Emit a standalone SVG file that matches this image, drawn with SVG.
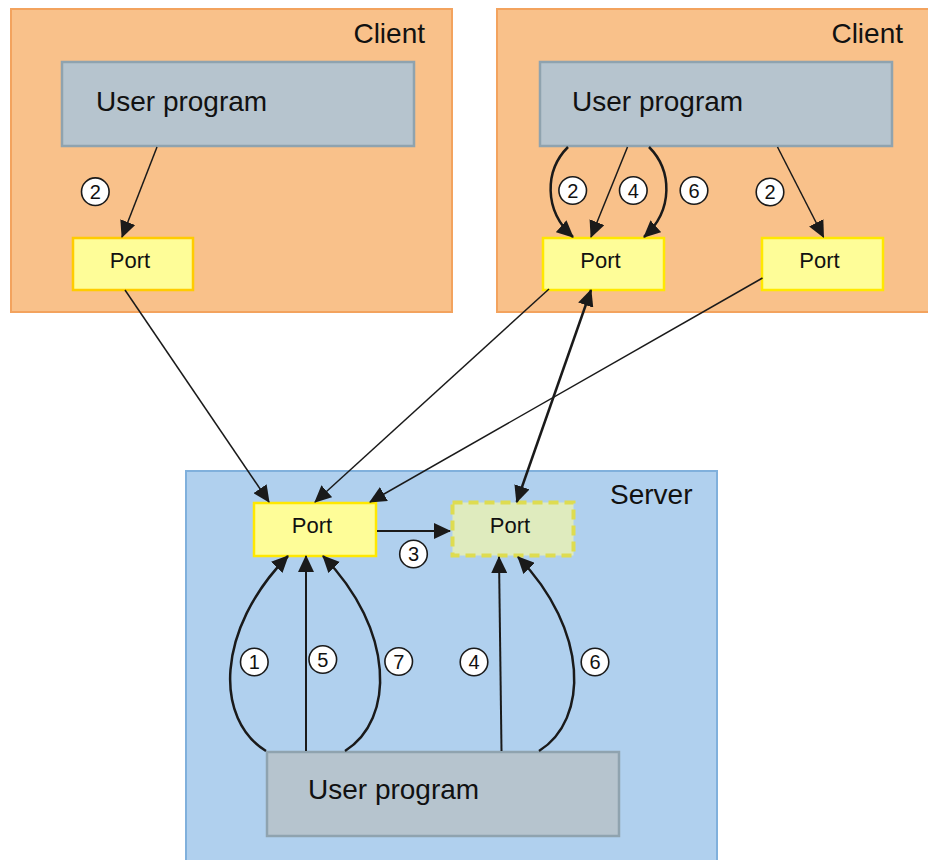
<svg xmlns="http://www.w3.org/2000/svg" width="928" height="860" viewBox="0 0 928 860">
<defs>
<style>
.client{fill:#F9C18A;stroke:#F3A35E;stroke-width:2}
.server{fill:#B0D0EE;stroke:#80B0DC;stroke-width:2}
.prog{fill:#B6C4CE;stroke:#8FA3AF;stroke-width:2.5}
.port{fill:#FEFD98;stroke:#FFE800;stroke-width:2.5}
.portc1{fill:#FEFD98;stroke:#FFCC00;stroke-width:2.5}
.portd{fill:#DFEBBE;stroke:#DEDC50;stroke-width:4;stroke-dasharray:10 6}
.title{font-family:"Liberation Sans",Arial,sans-serif;font-size:28px;fill:#111}
.ptxt{font-family:"Liberation Sans",Arial,sans-serif;font-size:22px;fill:#111;text-anchor:middle}
.utxt{font-family:"Liberation Sans",Arial,sans-serif;font-size:28px;fill:#111}
.lbl circle{fill:#fff;stroke:#1a1a1a;stroke-width:1.6}
.lbl text{font-family:"Liberation Sans",Arial,sans-serif;font-size:20px;fill:#111;text-anchor:middle}
.thin{fill:none;stroke:#1a1a1a;stroke-width:1.5;marker-end:url(#ah)}
.bold{fill:none;stroke:#1a1a1a;stroke-width:2.5;marker-end:url(#ah)}
.mid{fill:none;stroke:#1a1a1a;stroke-width:2;marker-end:url(#ah)}
</style>
<marker id="ah" markerUnits="userSpaceOnUse" markerWidth="17" markerHeight="16" viewBox="0 0 17 16" refX="16" refY="8" orient="auto-start-reverse">
<path d="M0,0 L17,8 L0,16 z" fill="#1a1a1a"/>
</marker>
</defs>

<g id="client1">
<rect class="client" x="11" y="9" width="441" height="303"/>
<text class="title" x="425" y="43" text-anchor="end">Client</text>
</g>
<g id="client2">
<rect class="client" x="497" y="9" width="440" height="303"/>
<text class="title" x="903" y="43" text-anchor="end">Client</text>
</g>
<g id="server">
<rect class="server" x="186" y="471" width="531" height="400"/>
<text class="title" x="610" y="504">Server</text>
</g>

<g id="client1-program">
<rect class="prog" x="62" y="62" width="352" height="84"/>
<text class="utxt" x="96" y="111">User program</text>
</g>
<g id="client1-port">
<rect class="portc1" x="73" y="238" width="120" height="52"/>
<text class="ptxt" x="130" y="268">Port</text>
</g>

<g id="client2-program">
<rect class="prog" x="540" y="62" width="352" height="84"/>
<text class="utxt" x="572" y="111">User program</text>
</g>
<g id="client2-port-a">
<rect class="port" x="543" y="238" width="121" height="52"/>
<text class="ptxt" x="600.5" y="268">Port</text>
</g>
<g id="client2-port-b">
<rect class="port" x="762" y="238" width="121" height="52"/>
<text class="ptxt" x="819.5" y="268">Port</text>
</g>

<g id="server-port">
<rect class="port" x="254" y="503" width="122" height="53"/>
<text class="ptxt" x="312" y="533">Port</text>
</g>
<g id="server-port-virtual">
<rect class="portd" x="452.5" y="502.5" width="121" height="53"/>
<text class="ptxt" x="510" y="533">Port</text>
</g>
<g id="server-program">
<rect class="prog" x="267" y="752" width="352" height="84"/>
<text class="utxt" x="308" y="799">User program</text>
</g>

<g id="connectors">
<path class="thin" d="M157,147 L122,237"/>
<path class="bold" d="M568,147 C545,170 543,210 573,237"/>
<path class="thin" d="M627.5,147 L591,237"/>
<path class="bold" d="M649,147 C672,170 674,210 644,237"/>
<path class="thin" d="M777.5,147 L823.5,237"/>
<path class="thin" d="M125,290 L269,502"/>
<path class="thin" d="M549,289 L315,502"/>
<path class="thin" d="M762.5,278 L370,502"/>
<path class="bold" d="M516.7,502 L591,290" style="marker-start:url(#ah)"/>
<path class="mid" d="M377,531 L450,531"/>
<path class="bold" d="M266,751 C215,720 215,630 288,556"/>
<path class="mid" d="M306,751 L306,556"/>
<path class="bold" d="M345,751 C395,720 395,630 323,556"/>
<path class="mid" d="M501.5,751 L499,557"/>
<path class="bold" d="M539,751 C589,720 589,630 518,557"/>
</g>

<g id="labels">
<g class="lbl"><circle cx="95.3" cy="191.7" r="13.8"/><text x="95.3" y="198.7">2</text></g>
<g class="lbl"><circle cx="572.7" cy="190.5" r="13.8"/><text x="572.7" y="197.5">2</text></g>
<g class="lbl"><circle cx="633.3" cy="190.5" r="13.8"/><text x="633.3" y="197.5">4</text></g>
<g class="lbl"><circle cx="694" cy="190.5" r="13.8"/><text x="694" y="197.5">6</text></g>
<g class="lbl"><circle cx="770" cy="192" r="13.8"/><text x="770" y="199">2</text></g>
<g class="lbl"><circle cx="413.5" cy="554" r="13.8"/><text x="413.5" y="561">3</text></g>
<g class="lbl"><circle cx="254.3" cy="662" r="13.8"/><text x="254.3" y="669">1</text></g>
<g class="lbl"><circle cx="322.8" cy="659.5" r="13.8"/><text x="322.8" y="666.5">5</text></g>
<g class="lbl"><circle cx="398.7" cy="661.5" r="13.8"/><text x="398.7" y="668.5">7</text></g>
<g class="lbl"><circle cx="474" cy="662" r="13.8"/><text x="474" y="669">4</text></g>
<g class="lbl"><circle cx="595" cy="662" r="13.8"/><text x="595" y="669">6</text></g>
</g>
</svg>
